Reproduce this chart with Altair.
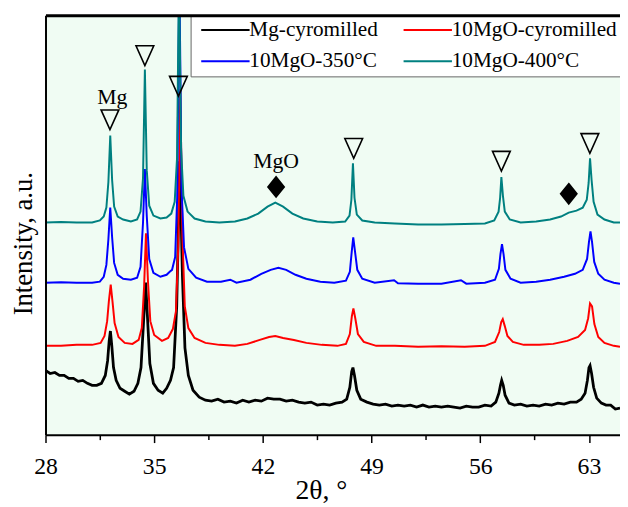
import altair as alt
import pandas as pd

SERIF = "Liberation Serif"

names = ["Mg-cyromilled", "10MgO-cyromilled", "10MgO-350°C", "10MgO-400°C"]
colors = ["#000000", "#ff0000", "#0000ff", "#008080"]

x_ticks = [28, 31.5, 35, 38.5, 42, 45.5, 49, 52.5, 56, 59.5, 63]

# 10MgO-400°C (top trace)
teal_x = [28, 29, 30, 31, 31.5, 31.75, 31.92, 32.05, 32.17, 32.29, 32.42, 32.65, 33.0, 33.5, 33.9,
          34.12, 34.28, 34.4, 34.52, 34.68, 34.95, 35.4, 35.8, 36.1, 36.32, 36.47, 36.6, 36.73, 36.88,
          37.15, 37.6, 38.3, 39.2, 40.2, 41.0, 41.7, 42.3, 42.8, 43.3, 43.9, 44.6, 45.5, 46.5, 47.3,
          47.58, 47.7, 47.8, 47.9, 48.05, 48.4, 49.2, 50.5, 52, 53.5, 55, 56.3, 56.9, 57.18, 57.28,
          57.36, 57.46, 57.58, 57.9, 58.6, 59.6, 60.5, 61.2, 61.7, 62.2, 62.6, 62.86, 62.98, 63.07,
          63.17, 63.3, 63.55, 64, 64.6, 65]
teal_y = [215, 215.5, 215, 215, 217, 221, 230, 256, 303, 258, 231, 221, 218, 216, 218,
          226, 260, 370, 268, 232, 222, 219, 220, 224, 236, 280, 470, 290, 242,
          226, 219, 216, 215, 216, 219, 224, 231, 235, 231, 224, 219, 216, 215, 216,
          222, 238, 275, 240, 223, 217, 215, 214, 213, 213, 213.5, 214, 217, 226, 240,
          261, 242, 226, 218, 215, 216, 218, 221, 225, 227, 230, 238, 255, 280,
          258, 236, 223, 218, 215, 215]

# 10MgO-350°C
blue_x = [28, 29, 30, 31, 31.5, 31.75, 31.92, 32.05, 32.17, 32.29, 32.42, 32.65, 33.0, 33.5, 33.9,
          34.12, 34.28, 34.4, 34.52, 34.68, 34.95, 35.4, 35.8, 36.0, 36.15, 36.35, 36.48, 36.62, 36.76,
          36.92, 37.2, 37.7, 38.4, 39.3, 39.9, 40.3, 41.2, 41.9, 42.5, 43.0, 43.5, 44.1, 44.8, 45.7,
          46.6, 47.35, 47.6, 47.72, 47.82, 47.93, 48.08, 48.4, 49.2, 50.45, 50.7, 52, 53.5, 54.76,
          55.1, 56.3, 56.95, 57.2, 57.3, 57.4, 57.5, 57.62, 57.95, 58.6, 59.6, 60.5, 61.4, 62.1, 62.6,
          62.88, 63.0, 63.1, 63.2, 63.34, 63.6, 64.0, 64.6, 65]
blue_y = [154, 154.5, 154, 154, 155, 160, 172, 198, 230, 200, 174, 162, 158, 157, 159,
          170, 215, 269, 222, 178, 164, 160, 162, 165, 167, 180, 240, 470, 250,
          190, 168, 159, 155, 155, 157, 154, 157, 163, 167, 169, 167, 162, 158, 155,
          154, 156, 165, 185, 200, 186, 167, 158, 154, 156.5, 153.5, 153, 153, 156.5,
          153, 154, 157, 168, 183, 193, 183, 167, 158, 154, 155, 157, 160, 163, 167,
          178, 195, 206, 195, 175, 163, 157, 154, 153]

# 10MgO-cyromilled
red_x = [28, 29, 30, 31, 31.55, 31.8, 31.97, 32.08, 32.2, 32.32, 32.45, 32.7, 33.1, 33.6, 34.0,
         34.2, 34.35, 34.47, 34.6, 34.75, 35.0, 35.5, 35.9, 36.2, 36.4, 36.55, 36.68, 36.82, 36.97,
         37.2, 37.6, 38.3, 39.2, 40.2, 41.0, 41.8, 42.4, 42.8, 43.3, 44.0, 44.8, 45.8, 46.8, 47.35,
         47.6, 47.73, 47.83, 47.95, 48.12, 48.5, 49.3, 50.5, 52, 53.5, 55, 56.3, 56.95, 57.22, 57.35,
         57.45, 57.58, 57.75, 58.1, 58.8, 59.8, 60.7, 61.6, 62.3, 62.75, 62.95, 63.07, 63.2, 63.35,
         63.6, 64.0, 64.6, 65]
red_y = [90, 90, 91, 91, 93, 100, 115, 135, 152, 134, 113, 99, 93, 92, 96,
         108, 150, 204, 155, 115, 101, 95, 98, 107, 125, 190, 350, 200, 130,
         108, 98, 93, 91, 90, 92, 96, 99, 100, 98, 96, 93, 91, 90, 92,
         102, 120, 128, 118, 102, 94, 90, 90, 89, 89.5, 89, 90, 94, 104, 114,
         117, 110, 100, 94, 91, 91, 92, 95, 99, 106, 118, 133, 130, 112,
         99, 93, 90, 89]

# Mg-cyromilled (bottom trace)
black_x = [28, 28.3, 28.6, 28.9, 29.2, 29.5, 29.8, 30.1, 30.4, 30.7, 31.0, 31.3, 31.6, 31.85, 32.0,
           32.1, 32.18, 32.27, 32.38, 32.55, 32.8, 33.1, 33.4, 33.7, 33.95, 34.15, 34.3, 34.45, 34.58,
           34.72, 34.95, 35.25, 35.55, 35.8, 36.05, 36.25, 36.45, 36.65, 36.82, 36.98, 37.2, 37.5, 37.9,
           38.3, 38.7, 39.1, 39.5, 39.9, 40.3, 40.7, 41.1, 41.5, 41.9, 42.3, 42.7, 43.1, 43.5, 43.9,
           44.3, 44.7, 45.1, 45.5, 45.9, 46.3, 46.7, 47.1, 47.4, 47.6, 47.72, 47.8, 47.9, 48.05, 48.3,
           48.7, 49.1, 49.5, 49.9, 50.3, 50.7, 51.1, 51.5, 51.9, 52.3, 52.7, 53.1, 53.5, 53.9, 54.3,
           54.7, 55.1, 55.5, 55.9, 56.3, 56.7, 57.0, 57.2, 57.3, 57.38, 57.48, 57.6, 57.85, 58.2, 58.6,
           59.0, 59.4, 59.8, 60.2, 60.6, 61.0, 61.4, 61.8, 62.2, 62.5, 62.75, 62.9, 63.0, 63.07, 63.17,
           63.3, 63.5, 63.8, 64.1, 64.4, 64.7, 65]
black_y = [65, 62, 63, 60, 60, 57, 57, 54, 55, 52, 50, 50, 52, 60, 75,
           95, 105, 90, 68, 55, 47, 44, 41, 44, 52, 68, 110, 154, 115,
           72, 52, 45, 42, 47, 55, 68, 130, 277, 160, 88, 60, 45, 38,
           35, 34, 36, 33, 34, 32, 35, 33, 35, 34, 37, 36, 36, 34, 35,
           33, 32, 33, 30, 31, 30, 32, 33, 36, 48, 64, 68, 60, 45, 36,
           33, 31, 30, 31, 29, 30, 29, 30, 28, 30, 28, 29, 28, 29, 28,
           27, 29, 28, 28, 30, 29, 33, 42, 50, 55, 50, 40, 32, 30, 31,
           29, 30, 29, 31, 30, 32, 31, 33, 33, 36, 42, 55, 68, 70, 62,
           48, 37, 32, 30, 30, 26, 27]

# Peak markers and labels
tri_x = [32.15, 34.4, 36.56, 47.85, 57.36, 63.06]
tri_y = [319, 384, 353, 290, 277, 295]
dia_x = [42.85, 61.7]
dia_y = [251, 244]
lab_text = ["Mg", "MgO"]
lab_x = [32.3, 42.85]
lab_y = [342, 277]

series = [(black_x, black_y, names[0]), (red_x, red_y, names[1]),
          (blue_x, blue_y, names[2]), (teal_x, teal_y, names[3])]

x_scale = alt.Scale(domain=[28, 65], nice=False, zero=False)
y_scale = alt.Scale(domain=[0, 425], nice=False, zero=False)

bottom_axis = alt.Axis(
    values=x_ticks, format="d",
    labelExpr="datum.value % 7 === 0 ? datum.label : ''",
    tickSize={"condition": {"test": "datum.value % 7 === 0", "value": 8}, "value": 5},
    tickWidth=1.5, tickColor="black", domainColor="black", domainWidth=2,
    labelFont=SERIF, labelFontSize=24, labelColor="black", labelPadding=12,
    labelFlush=False, labelOverlap=False, grid=False,
    title="2θ, °", titleFont=SERIF, titleFontSize=28, titleFontWeight="normal",
    titleColor="black", titleX=279, titleY=65, titleBaseline="alphabetic", titleAlign="center",
    zindex=1)
top_axis = alt.Axis(orient="top", labels=False, ticks=False, domainColor="black", domainWidth=3,
                    title=None, grid=False, zindex=1)
y_axis = alt.Axis(
    labels=False, ticks=False, grid=False, domainColor="black", domainWidth=2,
    title="Intensity, a.u.", titleFont=SERIF, titleFontSize=27, titleFontWeight="normal",
    titleColor="black", titleX=-14, titleY=231, titleAngle=270, titleBaseline="alphabetic",
    titleAlign="center", zindex=1)

legend = alt.Legend(
    title=None, orient="none", legendX=147, legendY=0, columns=2, direction="horizontal",
    symbolType="M-1,0H11.25", symbolSize=64, symbolStrokeWidth=2,
    labelFont=SERIF, labelFontSize=21.5, labelColor="black", labelLimit=0, labelOffset=34,
    columnPadding=19, rowPadding=9, padding=4, fillColor="white", strokeColor="#666666")

color_enc = alt.Color("s:N", scale=alt.Scale(domain=names, range=colors), legend=legend)
y_enc = alt.Y("y:Q", scale=y_scale, axis=y_axis)

layers = []
for i, (xs, ys, nm) in enumerate(series):
    df = pd.DataFrame({"x": xs, "y": ys, "s": nm})
    ax = bottom_axis if i == 0 else None
    layers.append(
        alt.Chart(df).mark_line(clip=True, strokeWidth=2.8 if i == 0 else 2).encode(
            x=alt.X("x:Q", scale=x_scale, axis=ax), y=y_enc, color=color_enc, order="x:Q")
    )

tri_df = pd.DataFrame({"x": tri_x, "y": tri_y})
layers.append(
    alt.Chart(tri_df).mark_point(shape="M-0.9,-1L0.9,-1L0,1Z", size=400, filled=False,
                                 stroke="black", strokeWidth=1.6, opacity=1).encode(
        x=alt.X("x:Q", scale=x_scale, axis=top_axis), y=y_enc)
)
dia_df = pd.DataFrame({"x": dia_x, "y": dia_y})
layers.append(
    alt.Chart(dia_df).mark_point(shape="M0,-1L0.8,0L0,1L-0.8,0Z", size=400, filled=True,
                                 fill="black", stroke="black", opacity=1).encode(
        x=alt.X("x:Q", scale=x_scale, axis=None), y=y_enc)
)
lab_df = pd.DataFrame({"x": lab_x, "y": lab_y, "t": lab_text})
layers.append(
    alt.Chart(lab_df).mark_text(font=SERIF, fontSize=22, color="black", baseline="middle",
                                align="center").encode(
        x=alt.X("x:Q", scale=x_scale, axis=None), y=y_enc, text="t:N")
)

chart = alt.layer(*layers).resolve_scale(x="shared", y="shared", color="shared").resolve_axis(
    x="independent").properties(
    width=582, height=425,
    autosize=alt.AutoSizeParams(type="none"),
    padding={"left": 38, "top": 4, "right": 0, "bottom": 70},
    background="white",
).configure_view(fill="#f0fcf3", stroke=None)

chart.save("out.html", embed_options={"renderer": "svg", "actions": False})
